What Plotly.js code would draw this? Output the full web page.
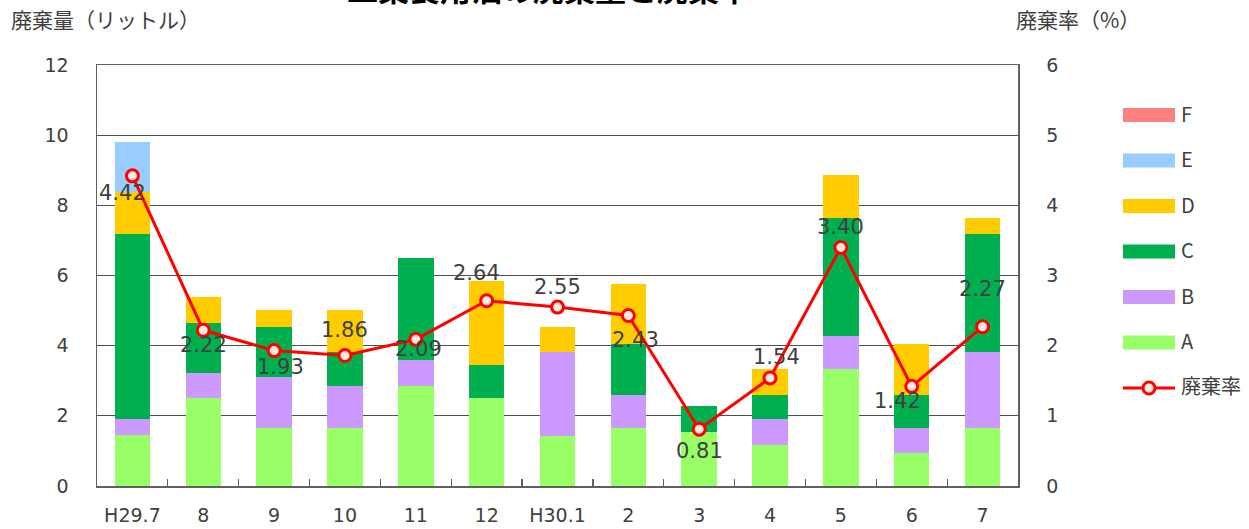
<!DOCTYPE html>
<html>
<head>
<meta charset="utf-8">
<script src="https://cdn.plot.ly/plotly-3.0.1.min.js"></script>
<style>
  html, body { margin: 0; padding: 0; background: #fff; }
  #chart { width: 1249px; height: 529px; }
</style>
</head>
<body>
<div id="chart"></div>
<script>
// ---- data ----
var categories = ['H29.7', '8', '9', '10', '11', '12', 'H30.1', '2', '3', '4', '5', '6', '7'];
var seriesNames = ['A', 'B', 'C', 'D', 'E', 'F'];
var valuesA = [1.44, 2.50, 1.66, 1.66, 2.86, 2.50, 1.43, 1.66, 1.55, 1.18, 3.33, 0.93, 1.66];
var valuesB = [0.48, 0.73, 1.45, 1.20, 0.73, 0.00, 2.38, 0.93, 0.00, 0.73, 0.95, 0.73, 2.15];
var valuesC = [5.26, 1.42, 1.43, 0.95, 2.90, 0.95, 0.00, 1.47, 0.73, 0.68, 3.37, 0.93, 3.37];
var valuesD = [1.20, 0.73, 0.47, 1.20, 0.00, 2.40, 0.73, 1.69, 0.00, 0.74, 1.21, 1.47, 0.47];
var valuesE = [1.43, 0, 0, 0, 0, 0, 0, 0, 0, 0, 0, 0, 0];
var valuesF = [0, 0, 0, 0, 0, 0, 0, 0, 0, 0, 0, 0, 0];
var rateName = '廃棄率';
var rateValues = [4.42, 2.22, 1.93, 1.86, 2.09, 2.64, 2.55, 2.43, 0.81, 1.54, 3.40, 1.42, 2.27];
var leftTicks = [0, 2, 4, 6, 8, 10, 12];
var rightTicks = [0, 1, 2, 3, 4, 5, 6];
var titleText = '工業食用油の廃棄量と廃棄率';
var leftAxisTitle = '廃棄量（リットル）';
var rightAxisTitle = '廃棄率（%）';

// ---- styles ----
var colors = ['#99FF66', '#CC99FF', '#00B050', '#FFCC00', '#99CCFF', '#FF8080'];
var lineColor = '#FF0000';
var textColor = '#404040';
var numFont = 'DejaVu Sans';
var jpFont = 'Noto Sans CJK JP';
// label placement (pixel shifts) for rate labels
var labelShiftX = [-10, 0, 6, 0, 3, -10, 0, 7, 0, 6, 0, -14, 0];
var labelShiftY = [-17, -15, -16, 25, -10, 28, 20, -25, -22, 21, 20, -15, 38];

var allValues = [valuesA, valuesB, valuesC, valuesD, valuesE, valuesF];
var traces = [];
for (var s = 0; s < seriesNames.length; s++) {
  traces.push({
    type: 'bar',
    name: seriesNames[s],
    x: categories,
    y: allValues[s],
    marker: { color: colors[s], line: { width: 0 } },
    width: 0.5,
    showlegend: false,
    hoverinfo: 'x+y+name'
  });
}
traces.push({
  type: 'scatter',
  mode: 'lines+markers',
  name: rateName,
  x: categories,
  y: rateValues,
  yaxis: 'y2',
  line: { color: lineColor, width: 3 },
  marker: { size: 12, color: '#FDE9E0', line: { color: lineColor, width: 3 } },
  showlegend: false
});

var annotations = [];
// rate labels (x given as category index)
for (var i = 0; i < categories.length; i++) {
  annotations.push({
    x: i, y: rateValues[i], xref: 'x', yref: 'y2',
    text: rateValues[i].toFixed(2), showarrow: false,
    xshift: labelShiftX[i], yshift: labelShiftY[i],
    font: { family: numFont, size: 21, color: textColor }
  });
}
// axis titles
annotations.push({
  xref: 'paper', yref: 'paper', x: 0, y: 1, xanchor: 'left', yanchor: 'bottom',
  xshift: -88, yshift: 29, text: leftAxisTitle, showarrow: false,
  font: { family: jpFont, size: 21, color: textColor }
});
annotations.push({
  xref: 'paper', yref: 'paper', x: 1, y: 1, xanchor: 'left', yanchor: 'bottom',
  xshift: -4, yshift: 29, text: rightAxisTitle, showarrow: false,
  font: { family: jpFont, size: 21, color: textColor }
});
// title (cut at top, as in the reference)
annotations.push({
  xref: 'paper', yref: 'paper', x: (548 - 97) / 921, y: 1, xanchor: 'center', yanchor: 'bottom',
  yshift: 53, text: '<b>' + titleText + '</b>', showarrow: false,
  font: { family: jpFont, size: 31, color: '#000000' }
});

// custom legend (right side): F..A then line
var shapes = [];
var legendTop = 115, legendStep = 45.5;
var legendOrder = [5, 4, 3, 2, 1, 0];
function pxX(px) { return (px - 97) / 921; }
function pxY(py) { return (486 - py) / 421; }
for (var k = 0; k < legendOrder.length; k++) {
  var idx = legendOrder[k];
  var cy = legendTop + k * legendStep;
  shapes.push({
    type: 'rect', xref: 'paper', yref: 'paper',
    x0: pxX(1123), x1: pxX(1175), y0: pxY(cy + 7), y1: pxY(cy - 7),
    fillcolor: colors[idx], line: { width: 0 }
  });
  annotations.push({
    xref: 'paper', yref: 'paper', x: pxX(1179), y: pxY(cy - 2), xanchor: 'left', yanchor: 'middle',
    text: seriesNames[idx], showarrow: false,
    font: { family: jpFont, size: 20, color: textColor }
  });
}
var lcy = legendTop + 6 * legendStep;
shapes.push({
  type: 'line', xref: 'paper', yref: 'paper',
  x0: pxX(1123), x1: pxX(1175), y0: pxY(lcy), y1: pxY(lcy),
  line: { color: lineColor, width: 3 }
});
shapes.push({
  type: 'circle', xref: 'paper', yref: 'paper',
  x0: pxX(1143), x1: pxX(1155), y0: pxY(lcy + 6), y1: pxY(lcy - 6),
  fillcolor: '#FDE9E0', line: { color: lineColor, width: 3 }
});
annotations.push({
  xref: 'paper', yref: 'paper', x: pxX(1179), y: pxY(lcy - 3), xanchor: 'left', yanchor: 'middle',
  text: rateName, showarrow: false,
  font: { family: jpFont, size: 20, color: textColor }
});

var layout = {
  width: 1249, height: 529,
  margin: { l: 97, r: 231, t: 65, b: 43, pad: 0 },
  paper_bgcolor: '#ffffff', plot_bgcolor: '#ffffff',
  barmode: 'stack',
  showlegend: false,
  xaxis: {
    type: 'category',
    range: [-0.5, categories.length - 0.5],
    showline: true, linecolor: '#606060', linewidth: 1.5, mirror: true,
    ticks: 'inside', tickson: 'boundaries', ticklen: 7, tickcolor: '#606060', tickwidth: 1.2,
    showgrid: false, zeroline: false,
    tickfont: { family: numFont, size: 19, color: textColor },
    ticklabelstandoff: 12,
    fixedrange: true
  },
  yaxis: {
    range: [0, 12], tickvals: leftTicks, ticktext: leftTicks.map(String),
    showline: true, linecolor: '#606060', linewidth: 1.5,
    showgrid: true, gridcolor: '#505050', gridwidth: 1.2, zeroline: false,
    ticks: '', tickfont: { family: numFont, size: 19, color: textColor },
    ticklabelstandoff: 23,
    fixedrange: true
  },
  yaxis2: {
    range: [0, 6], tickvals: rightTicks, ticktext: rightTicks.map(String),
    overlaying: 'y', side: 'right',
    showline: true, linecolor: '#606060', linewidth: 1.5,
    showgrid: false, zeroline: false, ticks: '',
    tickfont: { family: numFont, size: 19, color: textColor },
    ticklabelstandoff: 23,
    fixedrange: true
  },
  annotations: annotations,
  shapes: shapes
};

Plotly.newPlot('chart', traces, layout, { displayModeBar: false, staticPlot: true });
</script>
</body>
</html>
